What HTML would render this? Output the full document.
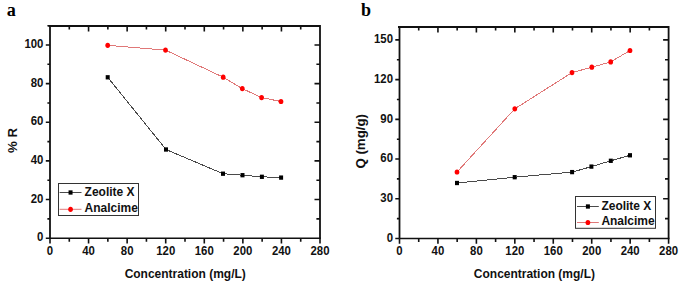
<!DOCTYPE html>
<html><head><meta charset="utf-8">
<style>
html,body{margin:0;padding:0;background:#fff;}
body{width:685px;height:283px;overflow:hidden;}
svg{display:block;}
.t{font-family:"Liberation Sans", sans-serif;font-weight:bold;font-size:11.4px;fill:#111;}
.lg{font-family:"Liberation Sans", sans-serif;font-weight:bold;font-size:12px;fill:#111;}
.ax{font-family:"Liberation Sans", sans-serif;font-weight:bold;font-size:12px;fill:#111;}
.pl{font-family:"Liberation Serif", serif;font-weight:bold;font-size:20px;fill:#000;}
</style></head>
<body>
<svg width="685" height="283" viewBox="0 0 685 283">
<rect width="685" height="283" fill="#fff"/>
<path d="M48.50,26.00H320.00V238.20" fill="none" stroke="#111" stroke-width="1.8"/>
<path d="M50.00,26.00V238.20" fill="none" stroke="#111" stroke-width="1.8"/>
<path d="M50.00,238.20H320.90" fill="none" stroke="#111" stroke-width="1.5"/>
<path d="M50.00,238.20v5.2M69.29,238.20v3.6M69.29,26.00v3.6M88.57,238.20v5.2M88.57,26.00v5.5M107.86,238.20v3.6M107.86,26.00v3.6M127.14,238.20v5.2M127.14,26.00v5.5M146.43,238.20v3.6M146.43,26.00v3.6M165.71,238.20v5.2M165.71,26.00v5.5M185.00,238.20v3.6M185.00,26.00v3.6M204.29,238.20v5.2M204.29,26.00v5.5M223.57,238.20v3.6M223.57,26.00v3.6M242.86,238.20v5.2M242.86,26.00v5.5M262.14,238.20v3.6M262.14,26.00v3.6M281.43,238.20v5.2M281.43,26.00v5.5M300.71,238.20v3.6M300.71,26.00v3.6M320.00,238.20v5.2" fill="none" stroke="#111" stroke-width="1.6"/>
<path d="M50.00,238.20h-4.2M50.00,218.88h-2.6M320.00,218.88h-3.6M50.00,199.56h-4.2M320.00,199.56h-5.5M50.00,180.24h-2.6M320.00,180.24h-3.6M50.00,160.92h-4.2M320.00,160.92h-5.5M50.00,141.60h-2.6M320.00,141.60h-3.6M50.00,122.28h-4.2M320.00,122.28h-5.5M50.00,102.96h-2.6M320.00,102.96h-3.6M50.00,83.64h-4.2M320.00,83.64h-5.5M50.00,64.32h-2.6M320.00,64.32h-3.6M50.00,45.00h-4.2M320.00,45.00h-5.5M50.00,25.68h-2.6M320.00,25.68h-3.6" fill="none" stroke="#111" stroke-width="1.6"/>
<text transform="translate(50.00,255.0) scale(1,1.13)" text-anchor="middle" class="t">0</text>
<text transform="translate(88.57,255.0) scale(1,1.13)" text-anchor="middle" class="t">40</text>
<text transform="translate(127.14,255.0) scale(1,1.13)" text-anchor="middle" class="t">80</text>
<text transform="translate(165.71,255.0) scale(1,1.13)" text-anchor="middle" class="t">120</text>
<text transform="translate(204.29,255.0) scale(1,1.13)" text-anchor="middle" class="t">160</text>
<text transform="translate(242.86,255.0) scale(1,1.13)" text-anchor="middle" class="t">200</text>
<text transform="translate(281.43,255.0) scale(1,1.13)" text-anchor="middle" class="t">240</text>
<text transform="translate(320.00,255.0) scale(1,1.13)" text-anchor="middle" class="t">280</text>
<text transform="translate(43.4,241.40) scale(1,1.13)" text-anchor="end" class="t">0</text>
<text transform="translate(43.4,202.76) scale(1,1.13)" text-anchor="end" class="t">20</text>
<text transform="translate(43.4,164.12) scale(1,1.13)" text-anchor="end" class="t">40</text>
<text transform="translate(43.4,125.48) scale(1,1.13)" text-anchor="end" class="t">60</text>
<text transform="translate(43.4,86.84) scale(1,1.13)" text-anchor="end" class="t">80</text>
<text transform="translate(43.4,48.20) scale(1,1.13)" text-anchor="end" class="t">100</text>
<path d="M107.70,77.30L166.00,149.50L223.00,173.70L242.50,175.20L261.90,176.80L281.10,177.60" fill="none" stroke="#4a4a4a" stroke-width="1.0" shape-rendering="crispEdges"/>
<rect x="105.70" y="75.15" width="4.0" height="4.3" fill="#000"/>
<rect x="164.00" y="147.35" width="4.0" height="4.3" fill="#000"/>
<rect x="221.00" y="171.55" width="4.0" height="4.3" fill="#000"/>
<rect x="240.50" y="173.05" width="4.0" height="4.3" fill="#000"/>
<rect x="259.90" y="174.65" width="4.0" height="4.3" fill="#000"/>
<rect x="279.10" y="175.45" width="4.0" height="4.3" fill="#000"/>
<path d="M107.70,45.30L165.50,50.10L223.20,77.20L242.30,88.60L261.60,97.60L281.00,101.50" fill="none" stroke="#e07878" stroke-width="1.0" shape-rendering="crispEdges"/>
<ellipse cx="107.70" cy="45.30" rx="2.35" ry="2.6" fill="#ff0000"/>
<ellipse cx="165.50" cy="50.10" rx="2.35" ry="2.6" fill="#ff0000"/>
<ellipse cx="223.20" cy="77.20" rx="2.35" ry="2.6" fill="#ff0000"/>
<ellipse cx="242.30" cy="88.60" rx="2.35" ry="2.6" fill="#ff0000"/>
<ellipse cx="261.60" cy="97.60" rx="2.35" ry="2.6" fill="#ff0000"/>
<ellipse cx="281.00" cy="101.50" rx="2.35" ry="2.6" fill="#ff0000"/>
<rect x="58.5" y="183.5" width="80" height="32" fill="none" stroke="#333" stroke-width="1"/>
<path d="M59.6,192.5H81.5" stroke="#4a4a4a" stroke-width="1" fill="none"/>
<rect x="68.55" y="190.35" width="4.0" height="4.3" fill="#000"/>
<text transform="translate(84.6,195.90) scale(1,1.08)" class="lg">Zeolite X</text>
<path d="M59.6,209.3H81.5" stroke="#e07878" stroke-width="1" fill="none"/>
<ellipse cx="70.55" cy="209.30" rx="2.35" ry="2.6" fill="#ff0000"/>
<text transform="translate(84.6,212.30) scale(1,1.08)" class="lg">Analcime</text>
<text transform="translate(185.2,278.0) scale(1,1.08)" text-anchor="middle" class="ax">Concentration (mg/L)</text>
<text transform="translate(16.5,140.45) scale(1,1.105) rotate(-90)" text-anchor="middle" class="ax">% R</text>
<text transform="translate(6.7,16.4) scale(1,1.08)" class="pl" style="font-size:18.2px">a</text>
<path d="M398.00,27.00H668.60V238.50" fill="none" stroke="#111" stroke-width="1.8"/>
<path d="M399.50,27.00V238.50" fill="none" stroke="#111" stroke-width="1.8"/>
<path d="M399.50,238.50H669.50" fill="none" stroke="#111" stroke-width="1.5"/>
<path d="M399.50,238.50v5.2M418.72,238.50v3.6M418.72,27.00v3.6M437.94,238.50v5.2M437.94,27.00v5.5M457.16,238.50v3.6M457.16,27.00v3.6M476.39,238.50v5.2M476.39,27.00v5.5M495.61,238.50v3.6M495.61,27.00v3.6M514.83,238.50v5.2M514.83,27.00v5.5M534.05,238.50v3.6M534.05,27.00v3.6M553.27,238.50v5.2M553.27,27.00v5.5M572.49,238.50v3.6M572.49,27.00v3.6M591.71,238.50v5.2M591.71,27.00v5.5M610.94,238.50v3.6M610.94,27.00v3.6M630.16,238.50v5.2M630.16,27.00v5.5M649.38,238.50v3.6M649.38,27.00v3.6M668.60,238.50v5.2" fill="none" stroke="#111" stroke-width="1.6"/>
<path d="M399.50,238.50h-4.2M399.50,218.64h-2.6M668.60,218.64h-3.6M399.50,198.78h-4.2M668.60,198.78h-5.5M399.50,178.92h-2.6M668.60,178.92h-3.6M399.50,159.06h-4.2M668.60,159.06h-5.5M399.50,139.20h-2.6M668.60,139.20h-3.6M399.50,119.34h-4.2M668.60,119.34h-5.5M399.50,99.48h-2.6M668.60,99.48h-3.6M399.50,79.62h-4.2M668.60,79.62h-5.5M399.50,59.76h-2.6M668.60,59.76h-3.6M399.50,39.90h-4.2M668.60,39.90h-5.5" fill="none" stroke="#111" stroke-width="1.6"/>
<text transform="translate(399.50,255.0) scale(1,1.13)" text-anchor="middle" class="t">0</text>
<text transform="translate(437.94,255.0) scale(1,1.13)" text-anchor="middle" class="t">40</text>
<text transform="translate(476.39,255.0) scale(1,1.13)" text-anchor="middle" class="t">80</text>
<text transform="translate(514.83,255.0) scale(1,1.13)" text-anchor="middle" class="t">120</text>
<text transform="translate(553.27,255.0) scale(1,1.13)" text-anchor="middle" class="t">160</text>
<text transform="translate(591.71,255.0) scale(1,1.13)" text-anchor="middle" class="t">200</text>
<text transform="translate(630.16,255.0) scale(1,1.13)" text-anchor="middle" class="t">240</text>
<text transform="translate(668.60,255.0) scale(1,1.13)" text-anchor="middle" class="t">280</text>
<text transform="translate(393.0,241.70) scale(1,1.13)" text-anchor="end" class="t">0</text>
<text transform="translate(393.0,201.98) scale(1,1.13)" text-anchor="end" class="t">30</text>
<text transform="translate(393.0,162.26) scale(1,1.13)" text-anchor="end" class="t">60</text>
<text transform="translate(393.0,122.54) scale(1,1.13)" text-anchor="end" class="t">90</text>
<text transform="translate(393.0,82.82) scale(1,1.13)" text-anchor="end" class="t">120</text>
<text transform="translate(393.0,43.10) scale(1,1.13)" text-anchor="end" class="t">150</text>
<path d="M457.00,183.00L514.70,177.20L572.10,172.10L591.40,166.60L610.80,160.80L630.00,155.30" fill="none" stroke="#4a4a4a" stroke-width="1.0" shape-rendering="crispEdges"/>
<rect x="455.00" y="180.85" width="4.0" height="4.3" fill="#000"/>
<rect x="512.70" y="175.05" width="4.0" height="4.3" fill="#000"/>
<rect x="570.10" y="169.95" width="4.0" height="4.3" fill="#000"/>
<rect x="589.40" y="164.45" width="4.0" height="4.3" fill="#000"/>
<rect x="608.80" y="158.65" width="4.0" height="4.3" fill="#000"/>
<rect x="628.00" y="153.15" width="4.0" height="4.3" fill="#000"/>
<path d="M457.00,172.00L514.80,108.80L572.00,72.60L591.80,67.20L610.70,61.90L630.00,50.50" fill="none" stroke="#e07878" stroke-width="1.0" shape-rendering="crispEdges"/>
<ellipse cx="457.00" cy="172.00" rx="2.35" ry="2.6" fill="#ff0000"/>
<ellipse cx="514.80" cy="108.80" rx="2.35" ry="2.6" fill="#ff0000"/>
<ellipse cx="572.00" cy="72.60" rx="2.35" ry="2.6" fill="#ff0000"/>
<ellipse cx="591.80" cy="67.20" rx="2.35" ry="2.6" fill="#ff0000"/>
<ellipse cx="610.70" cy="61.90" rx="2.35" ry="2.6" fill="#ff0000"/>
<ellipse cx="630.00" cy="50.50" rx="2.35" ry="2.6" fill="#ff0000"/>
<rect x="575.5" y="196.5" width="80" height="31.8" fill="none" stroke="#333" stroke-width="1"/>
<path d="M577,206.5H598.8" stroke="#4a4a4a" stroke-width="1" fill="none"/>
<rect x="585.90" y="204.35" width="4.0" height="4.3" fill="#000"/>
<text transform="translate(601.4,209.50) scale(1,1.08)" class="lg">Zeolite X</text>
<path d="M577,222.5H598.8" stroke="#e07878" stroke-width="1" fill="none"/>
<ellipse cx="587.90" cy="222.50" rx="2.35" ry="2.6" fill="#ff0000"/>
<text transform="translate(601.4,225.30) scale(1,1.08)" class="lg">Analcime</text>
<text transform="translate(534.4,278.0) scale(1,1.08)" text-anchor="middle" class="ax">Concentration (mg/L)</text>
<text transform="translate(365.1,141.3) scale(1,1.105) rotate(-90)" text-anchor="middle" class="ax">Q (mg/g)</text>
<text transform="translate(361.0,15.9) scale(1,1.0)" class="pl" style="font-size:18px">b</text>
</svg>
</body></html>
